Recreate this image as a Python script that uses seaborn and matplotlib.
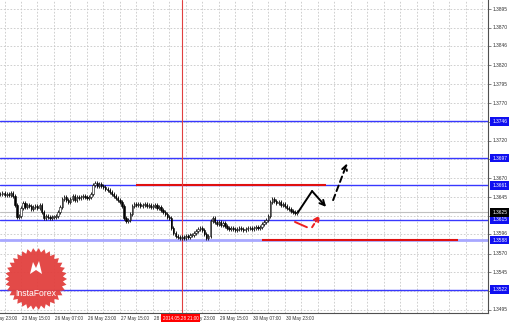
import numpy as np
import pandas as pd
import matplotlib
matplotlib.use("Agg")
import matplotlib.pyplot as plt
import matplotlib.transforms as mtransforms
from matplotlib.patches import Polygon
import seaborn as sns

# ---------------- data ----------------
closes = [
    1.3649, 1.3650, 1.3648, 1.3649, 1.3648, 1.3650, 1.3647,
    1.3635, 1.3619, 1.3620,
    1.3631, 1.3637, 1.3632, 1.3635, 1.3633, 1.3629, 1.3632, 1.3633, 1.3631, 1.3635,
    1.3625, 1.3617,
    1.3620, 1.3619, 1.3617, 1.3619, 1.3619, 1.3620,
    1.3625, 1.3632, 1.3643,
    1.3645, 1.3641, 1.3639, 1.3643, 1.3647, 1.3641,
    1.3645, 1.3644, 1.3645, 1.3647, 1.3645, 1.3644, 1.3645,
    1.3649, 1.3661, 1.3664, 1.3660,
    1.3662, 1.3660, 1.3658, 1.3656, 1.3654, 1.3652, 1.3649, 1.3647, 1.3644, 1.3641, 1.3639,
    1.3633, 1.3617, 1.3613, 1.3615, 1.3623, 1.3633, 1.3636,
    1.3635, 1.3636, 1.3633, 1.3635, 1.3636, 1.3633, 1.3635, 1.3632, 1.3633, 1.3635,
    1.3631, 1.3632, 1.3628, 1.3625, 1.3623, 1.3619, 1.3617,
    1.3604, 1.3597, 1.3593, 1.3592, 1.3591, 1.3592, 1.3591, 1.3593, 1.3592, 1.3595,
    1.3595, 1.3597, 1.3600, 1.3603, 1.3604, 1.3601, 1.3596, 1.3591, 1.3593,
    1.3613, 1.3617, 1.3612, 1.3609, 1.3612, 1.3608, 1.3611, 1.3607,
    1.3604, 1.3603, 1.3604, 1.3603, 1.3601, 1.3603, 1.3604, 1.3603, 1.3601, 1.3603,
    1.3604, 1.3604, 1.3603, 1.3604, 1.3605, 1.3604, 1.3605,
    1.3609, 1.3612, 1.3615, 1.3620,
    1.3639, 1.3643, 1.3640, 1.3637, 1.3639, 1.3635, 1.3636, 1.3633, 1.3631, 1.3629,
    1.3627, 1.3625, 1.3624, 1.3625,
]
time_tick_pos = [-6, 10, 26, 42, 58, 74, 90, 106, 122, 138]
time_tick_labels = ["22 May 23:00", "23 May 15:00", "26 May 07:00", "26 May 23:00",
                    "27 May 15:00", "28 May 07:00", "28 May 23:00", "29 May 15:00",
                    "30 May 07:00", "30 May 23:00"]
price_ticks = [1.3895, 1.3870, 1.3846, 1.3820, 1.3795, 1.3770, 1.3745, 1.3720, 1.3696,
               1.3670, 1.3645, 1.3620, 1.3596, 1.3570, 1.3545, 1.3520, 1.3495]
blue_levels = [1.3746, 1.3697, 1.3661, 1.3615, 1.3588, 1.3522]
red_lines = [(1.3661, 66, 158), (1.3588, 127, 222)]   # (price, start index, end index)
current_price = 1.3625
cursor_index = 88
cursor_label = "2014.05.28 21:00"

# forecast arrows (index, price)
black_path = [(144.5, 1.3625), (151.3, 1.3653), (158.1, 1.3632)]
black_dash = [(161.5, 1.3641), (168.3, 1.3690)]
red_path = [(143.0, 1.3612), (148.8, 1.3605)]
red_dash = [(151.3, 1.3605), (155.1, 1.3621)]

# ---------------- figure ----------------
sns.set_theme(style="white")
plt.rcParams["font.family"] = ["Liberation Sans", "DejaVu Sans"]

W, H = 510, 323
fig = plt.figure(figsize=(W / 100, H / 100), dpi=100)
fig.patch.set_facecolor("white")
ax = fig.add_axes([0, 10 / H, 488 / W, 313 / H])
ax.set_facecolor("white")

n = len(closes)
idx = np.arange(n)
df = pd.DataFrame({"i": idx, "close": closes})
df["open"] = df["close"].shift(1).fillna(df["close"])
wick = 0.00025
df["high"] = df[["open", "close"]].max(axis=1) + wick
df["low"] = df[["open", "close"]].min(axis=1) - wick

ax.set_xlim(-0.2, 236.7)
ax.set_ylim(1.3491, 1.3907)

# grid
grid_kw = dict(color="#c8c8c8", lw=0.6, ls=(0, (2, 2)), zorder=0)
for p in price_ticks:
    ax.axhline(p, **grid_kw)
for gx in np.arange(2, 240, 8):
    ax.axvline(gx, **grid_kw)

# levels
for lv in blue_levels:
    if lv == 1.3588:
        ax.axhline(lv, color="#a8a8ff", lw=2.0, zorder=1)
    else:
        ax.axhline(lv, color="#3838ff", lw=1.0, zorder=1)
ax.axhline(current_price, color="#c0c0c0", lw=0.8, zorder=1)
for p, a, b in red_lines:
    ax.plot([a, b], [p, p], color="#e01010", lw=1.5, zorder=2, solid_capstyle="butt")

# cursor
ax.axvline(cursor_index, color="#e04040", lw=0.8, zorder=2)

# candles
ax.vlines(df["i"], df["low"], df["high"], color="black", lw=0.6, zorder=3)
bull = df["close"] >= df["open"]
ax.bar(df["i"][bull], (df["close"] - df["open"])[bull].clip(lower=0.00004),
       bottom=df["open"][bull], width=0.65, color="white", edgecolor="black",
       linewidth=0.4, zorder=4)
ax.bar(df["i"][~bull], (df["open"] - df["close"])[~bull].clip(lower=0.00004),
       bottom=df["close"][~bull], width=0.65, color="black", edgecolor="black",
       linewidth=0.4, zorder=4)

# arrows
def poly_arrow(path, color, ls):
    xs = [p[0] for p in path]
    ys = [p[1] for p in path]
    if len(path) > 2:
        ax.plot(xs[:-1], ys[:-1], color=color, lw=1.4, ls=ls, zorder=5)
    ax.annotate("", xy=path[-1], xytext=path[-2],
                arrowprops=dict(arrowstyle="->", lw=1.4, color=color, ls=ls,
                                mutation_scale=9, shrinkA=0, shrinkB=0), zorder=5)

poly_arrow(black_path, "black", "-")
poly_arrow(black_dash, "black", (0, (3, 2)))
ax.plot([p[0] for p in red_path], [p[1] for p in red_path], color="#ee2020", lw=1.4, zorder=5)
poly_arrow(red_dash, "#ee2020", (0, (2, 1.5)))

# axes frame
for s in ["top", "left"]:
    ax.spines[s].set_visible(False)
for s in ["bottom", "right"]:
    ax.spines[s].set_color("#505050")
    ax.spines[s].set_linewidth(0.8)
ax.set_xticks([])
ax.set_yticks(price_ticks)
ax.tick_params(axis="y", which="both", left=False, right=True, length=2, width=0.5,
               color="#505050", labelleft=False, labelright=False)

# price labels on the right
yt = mtransforms.blended_transform_factory(ax.transAxes, ax.transData)
fs = 3.5
for p in price_ticks:
    ax.text(1.009, p, f"{p:.4f}", transform=yt, fontsize=fs, color="#303030",
            ha="left", va="center", clip_on=False, zorder=6)
for lv in blue_levels:
    ax.text(1.009, lv, f"{lv:.4f}", transform=yt, fontsize=fs, color="white",
            ha="left", va="center", clip_on=False, zorder=8,
            bbox=dict(boxstyle="square,pad=0.4", fc="#1010f0", ec="none"))
ax.text(1.009, current_price, f"{current_price:.4f}", transform=yt, fontsize=fs,
        color="white", ha="left", va="center", clip_on=False, zorder=9,
        bbox=dict(boxstyle="square,pad=0.4", fc="black", ec="none"))

# time labels
xt = mtransforms.blended_transform_factory(ax.transData, ax.transAxes)
fsx = 3.3
for pos, lab in zip(time_tick_pos, time_tick_labels):
    ax.text(pos + 0.6, -0.016, lab, transform=xt, fontsize=fsx, color="#303030",
            ha="left", va="center", clip_on=False, zorder=6)
ax.text(cursor_index - 0.5, -0.016, cursor_label, transform=xt, fontsize=fsx, color="white",
        ha="center", va="center", clip_on=False, zorder=9,
        bbox=dict(boxstyle="square,pad=0.4", fc="#ff0000", ec="none"))

# InstaForex logo (starburst)
cx, cy, r_out, r_in, k = 36, 279, 31, 27, 34
ang = np.linspace(0, 2 * np.pi, 2 * k, endpoint=False)
rad = np.where(np.arange(2 * k) % 2 == 0, r_out, r_in)
px = cx + rad * np.cos(ang)
py = cy + rad * np.sin(ang)
star = Polygon(np.column_stack([px / W, 1 - py / H]), closed=True,
               transform=fig.transFigure, fc="#e2403e", ec="none", alpha=0.95, zorder=10)
fig.patches.append(star)
fig.text(36 / W, 1 - 293 / H, "InstaForex", fontsize=6.2, color="white",
         ha="center", va="center", zorder=11)
icon = [(30, 274), (33, 262), (36, 268), (39, 261), (42, 274), (36, 270)]
fig.patches.append(Polygon([(x / W, 1 - y / H) for x, y in icon], closed=True,
                           transform=fig.transFigure, fc="white", ec="none", zorder=11))

fig.savefig("out.png", dpi=100, facecolor="white")
